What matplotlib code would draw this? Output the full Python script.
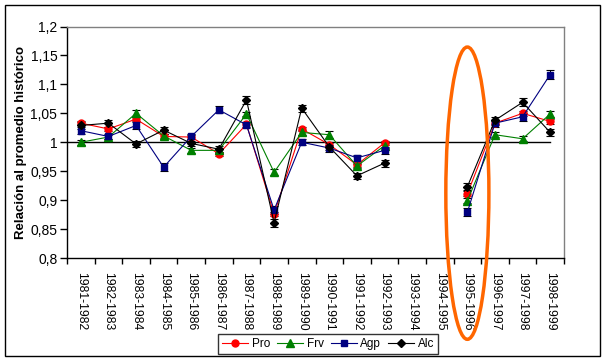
import numpy as np
import matplotlib
matplotlib.use('Agg')
import matplotlib.pyplot as plt
from matplotlib.patches import Ellipse, Rectangle

plt.rcParams['font.family'] = ['Liberation Sans', 'DejaVu Sans']

# Periods (campaigns)
periods = ['1981-1982', '1982-1983', '1983-1984', '1984-1985', '1985-1986', '1986-1987',
           '1987-1988', '1988-1989', '1989-1990', '1990-1991', '1991-1992', '1992-1993',
           '1993-1994', '1994-1995', '1995-1996', '1996-1997', '1997-1998', '1998-1999']

nan = np.nan
# Ratio to historical average, per group
pro = [1.033, 1.023, 1.040, 1.010, 1.009, 0.980, 1.031, 0.876, 1.023, 0.996, 0.961, 0.999,
       nan, nan, 0.911, 1.033, 1.050, 1.036]
frv = [1.000, 1.009, 1.050, 1.011, 0.986, 0.986, 1.049, 0.948, 1.017, 1.013, 0.959, 0.994,
       nan, nan, 0.899, 1.013, 1.006, 1.049]
agp = [1.020, 1.010, 1.029, 0.957, 1.010, 1.056, 1.030, 0.883, 1.000, 0.990, 0.973, 0.986,
       nan, nan, 0.879, 1.033, 1.044, 1.117]
alc = [1.029, 1.033, 0.997, 1.021, 0.998, 0.988, 1.073, 0.861, 1.059, 0.992, 0.942, 0.964,
       nan, nan, 0.923, 1.038, 1.069, 1.017]

# error bar half widths
pro_err = [0.004] * 18
frv_err = [0.004, 0.004, 0.006, 0.004, 0.004, 0.004, 0.004, 0.005, 0.004, 0.006, 0.004, 0.004,
           0, 0, 0.004, 0.004, 0.004, 0.005]
agp_err = [0.006, 0.005, 0.006, 0.007, 0.005, 0.006, 0.005, 0.007, 0.005, 0.006, 0.005, 0.006,
           0, 0, 0.007, 0.006, 0.007, 0.008]
alc_err = [0.006, 0.006, 0.005, 0.006, 0.005, 0.005, 0.007, 0.007, 0.006, 0.006, 0.005, 0.006,
           0, 0, 0.006, 0.006, 0.007, 0.006]

series = [('Pro', pro, pro_err, 'red', 'o', 5),
          ('Frv', frv, frv_err, 'green', '^', 5.5),
          ('Agp', agp, agp_err, 'navy', 's', 5),
          ('Alc', alc, alc_err, 'black', 'D', 4)]

fig = plt.figure(figsize=(6.07, 3.62), dpi=100)
ax = fig.add_axes([67/607, 1 - 258/362, (564-67)/607, (258-26.5)/362])

x = np.arange(len(periods))

# reference line at 1
ax.plot([-0.5, len(periods) - 1], [1, 1], color='black', lw=1, zorder=1)

for name, vals, err, col, mk, ms in series:
    ax.errorbar(x, vals, yerr=err, fmt='none', ecolor='black', elinewidth=0.8,
                capsize=3, capthick=0.8, zorder=2)
    ax.plot(x, vals, color=col, lw=0.8, marker=mk, markersize=ms,
            markerfacecolor=col, markeredgecolor=col, label=name, zorder=3)

ax.set_xlim(-0.5, len(periods) - 0.5)
ax.set_ylim(0.8, 1.2)
ax.set_yticks(np.arange(0.8, 1.2001, 0.05))
ax.set_yticklabels(['0,8', '0,85', '0,9', '0,95', '1', '1,05', '1,1', '1,15', '1,2'], fontsize=10)
ax.set_xticks(x)
ax.set_xticklabels(periods, rotation=270, fontsize=8.7)
ax.set_xticks(np.arange(-0.5, len(periods)), minor=True)
ax.tick_params(axis='x', which='major', length=0, pad=10)
ax.tick_params(axis='x', which='minor', length=4, width=1, direction='out')
ax.tick_params(axis='y', length=5, width=1, direction='out', pad=2)

ax.spines['top'].set_color('#808080')
ax.spines['right'].set_color('#808080')
for s in ax.spines.values():
    s.set_linewidth(1)

ax.set_ylabel('Relación al promedio histórico', fontsize=9.5, fontweight='bold', labelpad=2)

# orange highlight around 1995-1996
ell = Ellipse((14, 0.912), width=1.56, height=0.505, fill=False, edgecolor='#FF6600',
              lw=2.5, clip_on=False, zorder=5)
ax.add_patch(ell)

leg = fig.legend(loc='center', bbox_to_anchor=(328/607, 1 - 344/362), ncol=4, fontsize=8.5,
                 frameon=True, fancybox=False, edgecolor='black', handlelength=2.2,
                 handletextpad=0.3, columnspacing=0.6, borderpad=0.3)
leg.get_frame().set_linewidth(1)

# outer chart frame
fig.patches.append(Rectangle((5/607, 1 - 356/362), 595/607, 351/362, transform=fig.transFigure,
                             fill=False, edgecolor='black', lw=1))

fig.savefig('out.png', dpi=100)
